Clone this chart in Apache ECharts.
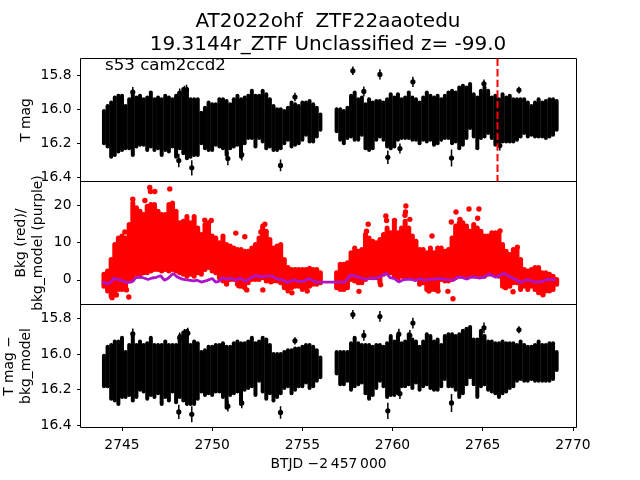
<!DOCTYPE html>
<html><head><meta charset="utf-8">
<style>html,body{margin:0;padding:0;background:#fff}#c{width:640px;height:480px}</style>
<script src="https://cdn.jsdelivr.net/npm/echarts@6/dist/echarts.min.js"></script>
</head><body><div id="c"></div>
<script>
// Time bins (BTJD - 2457000) at which the dense band's edges were read
var binTimes=[2744.0,2744.2,2744.4,2744.6,2744.8,2745.0,2745.2,2745.4,2745.6,2745.8,2746.0,2746.2,2746.4,2746.6,2746.8,2747.0,2747.2,2747.4,2747.6,2747.8,2748.0,2748.2,2748.4,2748.6,2748.8,2749.0,2749.2,2749.4,2749.6,2749.8,2750.0,2750.2,2750.4,2750.6,2750.8,2751.0,2751.2,2751.4,2751.6,2751.8,2752.0,2752.2,2752.4,2752.6,2752.8,2753.0,2753.2,2753.4,2753.6,2753.8,2754.0,2754.2,2754.4,2754.6,2754.8,2755.0,2755.2,2755.4,2755.6,2755.8,2756.0,
2756.9,2757.1,2757.3,2757.5,2757.7,2757.9,2758.1,2758.3,2758.5,2758.7,2758.9,2759.1,2759.3,2759.5,2759.7,2759.9,2760.1,2760.3,2760.5,2760.7,2760.9,2761.1,2761.3,2761.5,2761.7,2761.9,2762.1,2762.3,2762.5,2762.7,2762.9,2763.1,2763.3,2763.5,2763.7,2763.9,2764.1,2764.3,2764.5,2764.7,2764.9,2765.1,2765.3,2765.5,2765.7,2765.9,2766.1,2766.3,2766.5,2766.7,2766.9,2767.1,2767.3,2767.5,2767.7,2767.9,2768.1,2768.3,2768.5,2768.7,2768.9,2769.1];

// Panel 1: T mag band edges
var tMagBright=[16.01,15.98,15.96,15.93,15.92,15.92,15.98,15.94,15.90,15.93,15.92,15.94,15.93,15.90,15.94,15.93,15.94,15.92,15.93,15.94,15.92,15.90,15.88,15.88,15.94,15.94,15.94,16.02,15.99,15.96,15.97,15.97,15.94,15.94,15.95,15.97,15.94,15.92,15.94,15.93,15.92,15.89,15.92,15.92,15.89,15.91,15.94,15.98,16.00,16.00,16.01,15.99,15.96,15.97,15.98,15.96,15.96,15.95,15.97,15.99,16.03,
16.00,16.00,16.01,15.99,15.92,15.90,15.94,15.93,15.97,15.94,15.96,15.95,15.95,15.96,15.94,15.91,15.93,15.91,15.94,15.93,15.90,15.93,15.94,15.96,15.93,15.90,15.92,15.93,15.92,15.94,15.92,15.90,15.89,15.90,15.87,15.86,15.87,15.85,15.91,15.93,15.89,15.87,15.89,15.93,15.92,15.94,15.91,15.93,15.92,15.94,15.94,15.94,15.94,15.96,15.98,15.96,15.94,15.96,15.95,15.94,15.94,15.95];
var tMagFaint=[16.20,16.22,16.28,16.27,16.25,16.24,16.23,16.23,16.27,16.22,16.21,16.21,16.24,16.22,16.24,16.23,16.27,16.24,16.25,16.22,16.28,16.23,16.26,16.29,16.28,16.27,16.27,16.20,16.23,16.24,16.24,16.21,16.22,16.23,16.27,16.23,16.22,16.21,16.28,16.20,16.17,16.17,16.22,16.17,16.19,16.23,16.22,16.24,16.24,16.23,16.20,16.18,16.22,16.21,16.20,16.18,16.15,16.19,16.19,16.16,16.12,
16.13,16.18,16.20,16.17,16.16,16.18,16.18,16.15,16.23,16.24,16.23,16.18,16.16,16.18,16.22,16.23,16.22,16.18,16.17,16.17,16.17,16.18,16.18,16.20,16.18,16.19,16.18,16.21,16.20,16.18,16.17,16.17,16.20,16.19,16.23,16.21,16.17,16.11,16.16,16.23,16.17,16.16,16.14,16.17,16.21,16.21,16.19,16.19,16.19,16.19,16.18,16.16,16.14,16.16,16.15,16.16,16.16,16.16,16.17,16.16,16.15,16.12];
// Panel 1: isolated points with error bars
var tOutTimes=[2748.15,2748.87,2750.87,2751.64,2753.79,2754.59,2748.58,2748.46,2745.60,2748.20,2757.80,2759.30,2761.13,2758.41,2759.74,2760.41,2763.27,2767.01,2765.07,2765.95];
var tOutMags=[16.303,16.346,16.291,16.268,16.332,15.927,15.884,15.89,15.898,15.906,15.772,15.793,15.837,15.894,16.284,16.232,16.288,15.886,15.849,16.214];
var tOutErrs=[0.04,0.045,0.04,0.035,0.035,0.025,0.03,0.03,0.03,0.03,0.025,0.03,0.03,0.03,0.04,0.03,0.05,0.02,0.025,0.03];
// Panel 1: marked epoch
var eventTimes=[2765.82,2765.82];
var eventMags=[15.699,16.427];

// Panel 2: background band edges
var bkgHigh=[1.5,2.4,5.5,9.5,11.3,11.8,11.3,14.9,20.7,19.4,18.5,17.6,19.8,20.3,20.3,18.5,17.6,17.6,20.3,20.7,18.5,15.4,15.8,17.1,15.4,17.1,14.0,12.2,14.9,15.4,11.8,11.3,10.0,11.8,9.5,9.1,8.6,8.2,8.2,7.7,7.7,8.6,9.5,11.3,14.5,13.1,10.9,8.6,9.1,9.5,5.5,3.3,2.8,2.8,2.8,2.8,2.8,3.1,2.8,2.8,1.9,
1.9,4.2,4.2,4.6,7.3,8.6,7.7,8.2,12.2,11.3,10.4,10.0,10.9,12.2,14.0,12.7,15.4,12.7,14.0,15.8,14.0,11.8,10.4,8.2,8.2,7.3,8.6,7.3,8.6,8.6,7.7,8.2,11.3,14.5,15.4,15.4,14.5,13.1,14.9,14.0,13.1,11.8,11.8,12.7,12.7,12.7,9.5,7.7,6.8,8.2,8.2,5.5,2.8,2.4,2.8,3.3,3.3,1.9,1.9,1.5,1.0,0.1];
var bkgLow=[-1.7,-3.0,-4.4,-3.9,-2.6,-2.6,-2.1,-0.3,0.1,1.5,1.0,1.9,1.9,2.4,2.8,2.8,2.4,2.8,2.4,2.8,2.4,1.9,1.5,1.0,1.5,1.0,1.9,1.5,2.8,3.3,2.4,1.9,0.6,-0.3,-0.8,0.1,0.1,-1.2,-1.7,-2.1,-0.8,0.1,0.1,0.1,0.6,-0.3,0.1,-0.3,-0.3,-0.8,-2.1,-3.0,-2.1,-1.7,-1.7,-2.6,-2.1,-1.7,-1.2,-1.2,-0.8,
-2.1,-2.6,-2.6,-2.1,0.1,-0.3,-0.8,-0.8,0.1,0.6,0.6,0.6,-0.8,1.5,1.9,1.9,1.0,0.1,1.0,0.6,1.0,0.6,0.6,-1.2,-0.8,-2.6,-2.6,-2.6,-2.6,0.1,-0.3,-0.3,0.1,0.6,1.0,1.0,1.0,1.0,1.0,1.0,1.0,1.0,1.5,1.5,1.5,1.0,-1.7,-1.7,-1.7,-0.8,-0.8,-2.6,-1.7,-2.6,-1.7,-2.6,-3.5,-3.0,-3.0,-3.0,-2.6,-1.2];
// Panel 2: isolated background points
var bkgOutTimes=[2746.54,2746.58,2746.82,2747.65,2745.60,2746.27,2745.16,2749.59,2749.95,2751.31,2751.81,2752.92,2752.70,2750.80,2751.48,2751.76,2751.92,2752.81,2753.25,2745.38,2744.45,2744.69,2745.01,2745.25,2754.42,2755.27,2760.74,2760.72,2760.69,2759.63,2759.67,2760.11,2760.96,2758.65,2758.56,2762.19,2763.52,2764.24,2764.79,2763.26,2763.74,2764.72,2765.96,2766.92,2763.35,2763.07,2758.14,2762.02,2762.52,2766.68,2766.27,2759.34,2768.34];
var bkgOutValues=[24.9,23.8,23.8,24.5,21.7,21.4,12.9,16.1,16.0,12.6,11.6,15.0,12.9,-1.1,-1.6,-1.3,-2.7,-2.7,-0.5,-4.6,-4.8,-4.1,-2.3,-2.7,-3.5,-3.0,19.9,18.3,17.4,17.2,16.0,16.0,16.3,15.0,13.1,11.8,18.3,19.1,19.1,15.6,16.3,16.6,13.2,8.8,-5.1,-3.1,-3.1,-3.0,-3.0,-3.2,-2.1,-1.3,-4.0];
// Panel 2: background model line
var modelTimes=[2743.90,2744.08,2744.27,2744.40,2744.55,2744.69,2744.88,2745.06,2745.29,2745.56,2745.75,2745.99,2746.21,2746.45,2746.67,2746.91,2747.14,2747.36,2747.54,2747.84,2748.06,2748.34,2748.61,2748.98,2749.17,2749.39,2749.69,2750.00,2750.19,2750.37,2750.56,2750.83,2751.05,2751.30,2751.54,2751.85,2752.13,2752.40,2752.68,2753.05,2753.33,2753.60,2753.88,2754.16,2754.53,2754.81,2755.08,2755.36,2755.73,2756.10,2756.79,2757.34,2757.67,2757.95,2758.23,2758.51,2758.78,2759.06,2759.34,2759.65,2759.86,2760.11,2760.35,2760.63,2761.00,2761.28,2761.52,2761.78,2762.20,2762.67,2763.13,2763.41,2763.59,2763.87,2764.14,2764.42,2764.79,2765.07,2765.35,2765.72,2766.18,2766.55,2766.83,2767.10,2767.47,2767.84,2768.21,2768.58,2769.04];
var modelValues=[-0.55,-0.9,-1.0,-0.55,0.5,0.2,0.0,-0.4,-0.7,-0.55,0.5,0.8,0.5,0.1,0.5,0.7,1.1,-0.1,0.35,1.7,0.8,0.2,0.0,-0.3,-0.1,-0.6,-0.2,0.35,-0.6,-0.4,0.5,0.2,0.5,-0.1,0.5,-0.4,0.5,1.2,0.8,1.0,1.0,0.2,0.1,-0.7,0.0,-0.4,-0.4,0.35,-0.6,-0.6,-0.6,-0.6,1.25,1.0,0.5,0.1,0.5,0.35,1.0,1.8,0.6,0.35,-0.55,0.1,0.2,-0.2,0.35,-0.1,0.2,0.35,0.0,-0.1,0.8,0.6,0.2,0.9,0.5,0.7,1.6,0.7,1.8,0.7,0.1,-0.7,0.1,-0.55,-0.55,0.1,0.0];

// Panel 3: T mag minus background model, band edges
var corrBright=[16.01,15.96,15.95,15.93,15.93,15.91,15.99,15.95,15.89,15.95,15.93,15.95,15.94,15.91,15.95,15.95,15.95,15.93,15.95,15.95,15.95,15.90,15.88,15.87,15.95,15.93,15.94,15.99,15.98,15.96,15.96,15.95,15.95,15.94,15.96,15.96,15.94,15.93,15.94,15.94,15.93,15.91,15.94,15.93,15.91,15.92,15.95,16.00,16.00,16.00,15.99,15.98,15.98,15.97,15.97,15.96,15.95,15.95,15.96,15.98,16.02,
15.99,15.99,15.99,15.99,15.94,15.91,15.94,15.95,15.95,15.95,15.96,15.95,15.95,15.96,15.94,15.90,15.93,15.90,15.94,15.93,15.89,15.92,15.93,15.96,15.93,15.89,15.90,15.93,15.92,15.95,15.90,15.89,15.89,15.90,15.89,15.87,15.86,15.85,15.92,15.92,15.87,15.90,15.93,15.93,15.94,15.94,15.93,15.94,15.94,15.94,15.95,15.93,15.95,15.96,15.96,15.95,15.93,15.95,15.95,15.94,15.94,15.99];
var corrFaint=[16.18,16.18,16.25,16.26,16.28,16.24,16.24,16.23,16.26,16.24,16.20,16.21,16.25,16.23,16.24,16.22,16.28,16.24,16.26,16.21,16.27,16.24,16.26,16.28,16.28,16.28,16.25,16.21,16.23,16.22,16.23,16.21,16.21,16.24,16.30,16.23,16.22,16.21,16.28,16.20,16.19,16.18,16.23,16.15,16.21,16.25,16.22,16.26,16.24,16.22,16.19,16.18,16.22,16.20,16.18,16.18,16.16,16.19,16.18,16.15,16.13,
16.11,16.17,16.17,16.15,16.20,16.18,16.17,16.16,16.22,16.25,16.23,16.19,16.15,16.18,16.24,16.23,16.23,16.22,16.18,16.18,16.17,16.19,16.16,16.20,16.18,16.17,16.19,16.20,16.20,16.18,16.14,16.18,16.18,16.20,16.24,16.22,16.17,16.13,16.17,16.24,16.18,16.17,16.20,16.21,16.22,16.24,16.22,16.21,16.19,16.18,16.15,16.14,16.15,16.15,16.14,16.15,16.15,16.15,16.15,16.15,16.14,16.09];
var corrOutTimes=[2748.15,2748.87,2750.87,2751.64,2753.79,2754.59,2745.60,2748.20,2748.46,2748.65,2757.80,2759.30,2761.13,2758.41,2759.74,2760.41,2763.27,2767.01,2765.07,2760.96,2760.35];
var corrOutMags=[16.324,16.337,16.292,16.274,16.327,15.927,15.888,15.91,15.891,15.884,15.78,15.791,15.828,15.897,16.318,16.222,16.274,15.865,15.854,15.897,15.89];
var corrOutErrs=[0.04,0.045,0.03,0.03,0.035,0.02,0.03,0.03,0.03,0.03,0.025,0.03,0.03,0.03,0.045,0.03,0.05,0.02,0.03,0.03,0.03];

var xTicks=[2745,2750,2755,2760,2765,2770];
var magTicks=[15.8,16.0,16.2,16.4];
var bkgTicks=[0,10,20];

var FONT='DejaVu Sans';
function zip(){var a=[].slice.call(arguments);return a[0].map(function(_,i){return a.map(function(c){return c[i]})})}
function bandSeries(idx,color,width,lo,hi){
  return {type:'custom',xAxisIndex:idx,yAxisIndex:idx,clip:true,silent:true,z:2,
    data:zip(binTimes,lo,hi),encode:{x:0,y:[1,2]},
    renderItem:function(p,api){
      var a=api.coord([api.value(0),api.value(1)]),b=api.coord([api.value(0),api.value(2)]);
      return {type:'line',shape:{x1:a[0],y1:a[1],x2:b[0],y2:b[1]},
        style:{stroke:color,lineWidth:width,lineCap:'round',fill:null}};
    }};
}
function errorSeries(idx,t,m,e){
  return {type:'custom',xAxisIndex:idx,yAxisIndex:idx,clip:true,silent:true,z:3,
    data:zip(t,m,e),encode:{x:0,y:1},
    renderItem:function(p,api){
      var x=api.value(0),y=api.value(1),er=api.value(2);
      var a=api.coord([x,y-er]),b=api.coord([x,y+er]),c=api.coord([x,y]);
      return {type:'group',children:[
        {type:'line',shape:{x1:a[0],y1:a[1],x2:b[0],y2:b[1]},style:{stroke:'#000',lineWidth:1.5,fill:null}},
        {type:'circle',shape:{cx:c[0],cy:c[1],r:2.6},style:{fill:'#000'}}]};
    }};
}
var grids=[58.5,181.5,304.5].map(function(t){
  return {left:80.5,top:t,width:496,height:123,show:true,backgroundColor:'transparent',borderColor:'#000',borderWidth:1,containLabel:false,outerBoundsMode:'none'};
});
function xAxis(i,shown){
  return {type:'value',gridIndex:i,min:2742.7,max:2770.2,splitLine:{show:false},
    axisLine:{show:false,onZero:false},
    axisTick:{show:shown,length:3.5,customValues:xTicks,lineStyle:{color:'#000',width:1}},
    axisLabel:{show:shown,customValues:xTicks,color:'#000',fontFamily:FONT,fontSize:13.89,margin:10.5,formatter:function(v){return String(v)}},
    name:shown?'BTJD \u22122\u2009457\u2009000':'',nameLocation:'middle',nameGap:30,nameMoveOverlap:false,
    nameTextStyle:{color:'#000',fontFamily:FONT,fontSize:13.89}};
}
function yAxis(i,min,max,ticks,inv,name,gap,fmt){
  return {type:'value',gridIndex:i,min:min,max:max,inverse:inv,splitLine:{show:false},
    axisLine:{show:false,onZero:false},
    axisTick:{show:true,length:3.5,customValues:ticks,lineStyle:{color:'#000',width:1}},
    axisLabel:{show:true,customValues:ticks,color:'#000',fontFamily:FONT,fontSize:13.89,margin:9,padding:[3,0,0,0],formatter:fmt},
    name:name,nameLocation:'middle',nameGap:gap,nameRotate:90,nameMoveOverlap:false,
    nameTextStyle:{color:'#000',fontFamily:FONT,fontSize:13.89,lineHeight:17,align:'center'}};
}
var magFmt=function(v){return v.toFixed(1)};
var chart=echarts.init(document.getElementById('c'),null,{renderer:'canvas',width:640,height:480});
chart.setOption({
  animation:false,backgroundColor:'#fff',
  title:[
    {text:'AT2022ohf  ZTF22aaotedu\n19.3144r_ZTF Unclassified z= -99.0',left:328,top:10,padding:0,textAlign:'center',
      textStyle:{color:'#000',fontFamily:FONT,fontSize:20,fontWeight:'normal',lineHeight:23}},
    {text:'s53 cam2ccd2',left:105,top:57,padding:0,textStyle:{color:'#000',fontFamily:FONT,fontSize:16.67,fontWeight:'normal'},z:20}
  ],
  grid:grids,
  xAxis:[xAxis(0,false),xAxis(1,false),xAxis(2,true)],
  yAxis:[
    yAxis(0,15.699,16.427,magTicks,true,'T mag',45.5,magFmt),
    yAxis(1,-6.64,26.5,bkgTicks,false,'Bkg (red)/\nbkg_model (purple)',33.5,function(v){return String(v)}),
    yAxis(2,15.724,16.411,magTicks,true,'T mag \u2212\nbkg_model',45.5,magFmt)
  ],
  series:[
    bandSeries(0,'#000',4,tMagFaint,tMagBright),
    errorSeries(0,tOutTimes,tOutMags,tOutErrs),
    {type:'line',xAxisIndex:0,yAxisIndex:0,data:zip(eventTimes,eventMags),showSymbol:false,silent:true,z:5,
      lineStyle:{color:'#f00',width:2,type:[7.4,3.2]}},
    bandSeries(1,'#f00',5,bkgLow,bkgHigh),
    {type:'scatter',xAxisIndex:1,yAxisIndex:1,data:zip(bkgOutTimes,bkgOutValues),symbol:'circle',symbolSize:5.4,silent:true,z:3,
      itemStyle:{color:'#f00',opacity:1}},
    {type:'line',xAxisIndex:1,yAxisIndex:1,data:zip(modelTimes,modelValues),showSymbol:false,silent:true,z:4,
      lineStyle:{color:'#ad14c9',width:2.8}},
    bandSeries(2,'#000',4,corrFaint,corrBright),
    errorSeries(2,corrOutTimes,corrOutMags,corrOutErrs)
  ]
});
</script></body></html>
